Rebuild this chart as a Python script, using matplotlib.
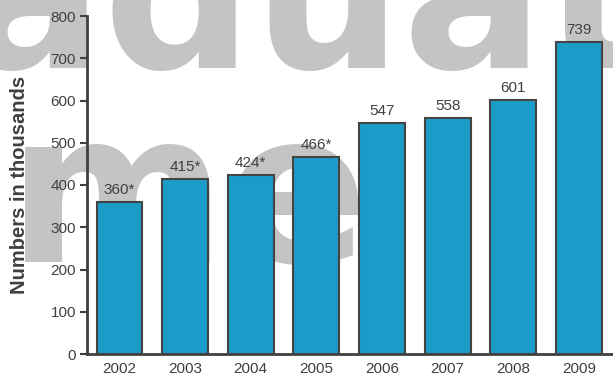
import matplotlib
matplotlib.use("Agg")
import matplotlib.pyplot as plt

# values (thousands)
years = ["2002", "2003", "2004", "2005", "2006", "2007", "2008", "2009"]
values = [360, 415, 424, 466, 547, 558, 601, 739]
value_labels = ["360*", "415*", "424*", "466*", "547", "558", "601", "739"]
y_ticks = [0, 100, 200, 300, 400, 500, 600, 700, 800]

text_col = "#404040"
bar_col = "#1b9bc8"

plt.rcParams["font.family"] = ["Liberation Sans", "DejaVu Sans"]

fig = plt.figure(figsize=(6.13, 3.81), dpi=100)
fig.patch.set_facecolor("white")

# faint background watermark
fig.text(-291 / 613, 1 - 68 / 381, "graduate", fontsize=151, fontweight="bold",
         family="DejaVu Sans", color="#c4c4c4", ha="left", va="baseline", zorder=-5)
fig.text(-482 / 613, 1 - 262 / 381, "income", fontsize=151, fontweight="bold",
         family="DejaVu Sans", color="#c4c4c4", ha="left", va="baseline", zorder=-5)

ax = fig.add_axes([87 / 613, 1 - 354 / 381, (613 - 87) / 613, (354 - 16) / 381])
ax.patch.set_alpha(0)

x = list(range(len(years)))
bars = ax.bar(x, values, width=0.7, color=bar_col, edgecolor="#444444", linewidth=1.5, zorder=3)

for b, lab in zip(bars, value_labels):
    ax.annotate(lab, (b.get_x() + b.get_width() / 2, b.get_height()),
                xytext=(0, 3.5), textcoords="offset points", ha="center", va="bottom",
                fontsize=11, color=text_col)

ax.set_xlim(-0.495, 7.52)
ax.set_ylim(0, 800)
ax.set_yticks(y_ticks)
ax.set_xticks(x)
ax.set_xticklabels(years)

for s in ["top", "right"]:
    ax.spines[s].set_visible(False)
for s in ["left", "bottom"]:
    ax.spines[s].set_linewidth(2)
    ax.spines[s].set_color(text_col)

ax.tick_params(axis="y", direction="out", length=5, width=1.5, color=text_col,
               labelcolor=text_col, labelsize=11, pad=3)
ax.tick_params(axis="x", length=0, labelcolor=text_col, labelsize=11, pad=6)

ax.set_ylabel("Numbers in thousands", fontsize=14.5, fontweight="bold", color=text_col)
ax.yaxis.set_label_coords(-0.11, 0.5)

fig.savefig("out.png", dpi=100)
